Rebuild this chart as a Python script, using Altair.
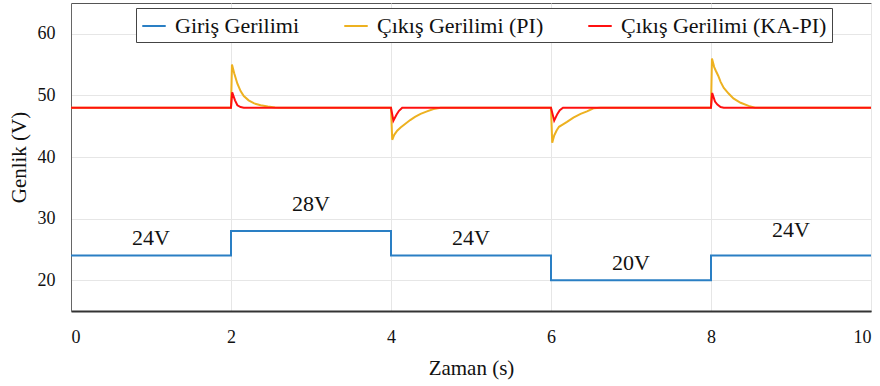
import altair as alt
import pandas as pd

# --- data ---
input_t = [0, 2, 2, 4, 4, 6, 6, 8, 8, 10]
input_v = [24, 24, 28, 28, 24, 24, 20, 20, 24, 24]

pi_t = [0, 2.0, 2.012, 2.04, 2.08, 2.12, 2.16, 2.22, 2.29, 2.37, 2.46, 2.55, 2.62,
        4.0, 4.015, 4.04, 4.08, 4.12, 4.18, 4.24, 4.30, 4.37, 4.45, 4.53, 4.62,
        6.0, 6.015, 6.04, 6.07, 6.10, 6.15, 6.20, 6.28, 6.37, 6.45, 6.53, 6.62,
        8.0, 8.012, 8.04, 8.06, 8.09, 8.12, 8.16, 8.22, 8.28, 8.37, 8.47, 8.55, 10]
pi_v = [48, 48, 55.0, 53.6, 51.9, 50.7, 49.9, 49.2, 48.7, 48.4, 48.2, 48.05, 48.0,
        48, 42.8, 43.6, 44.3, 44.8, 45.4, 46.0, 46.5, 47.0, 47.4, 47.8, 48.0,
        48, 42.3, 43.5, 44.3, 44.9, 45.3, 45.7, 46.4, 47.0, 47.4, 47.9, 48.0,
        48, 56.0, 54.6, 54.0, 53.2, 52.2, 51.2, 50.3, 49.5, 48.8, 48.3, 48.0, 48]

ka_t = [0, 2.0, 2.015, 2.05, 2.08, 2.12, 2.16,
        4.0, 4.03, 4.07, 4.10, 4.14,
        6.0, 6.04, 6.08, 6.11, 6.15,
        8.0, 8.015, 8.05, 8.08, 8.12, 8.16, 10]
ka_v = [48, 48, 50.5, 49.2, 48.4, 48.1, 48.0,
        48, 45.9, 46.9, 47.5, 48.0,
        48, 45.9, 47.0, 47.6, 48.0,
        48, 50.4, 49.0, 48.5, 48.1, 48.0, 48]

ann_text = ["24V", "28V", "24V", "20V", "24V"]
ann_x = [1, 3, 5, 7, 9]
ann_y = [26.8, 32.3, 26.8, 22.8, 28.2]

series_names = ["Giriş Gerilimi", "Çıkış Gerilimi (PI)", "Çıkış Gerilimi (KA-PI)"]
series_colors = ["#2a7fc4", "#EDB120", "#FF1010"]

rows = []
for name, ts, vs in [(series_names[0], input_t, input_v),
                     (series_names[1], pi_t, pi_v),
                     (series_names[2], ka_t, ka_v)]:
    for i, (t, v) in enumerate(zip(ts, vs)):
        rows.append({"t": t, "v": v, "s": name, "o": i})
df = pd.DataFrame(rows)
ann = pd.DataFrame({"t": ann_x, "v": ann_y, "txt": ann_text})

FONT = "Liberation Serif, Times New Roman, serif"

xsc = alt.Scale(domain=[0, 10], nice=False, zero=False)
ysc = alt.Scale(domain=[15, 65], nice=False, zero=False)

lines = alt.Chart(df).mark_line(strokeWidth=2, clip=True).encode(
    x=alt.X("t:Q", scale=xsc, title="Zaman (s)",
            axis=alt.Axis(values=[0, 2, 4, 6, 8, 10], format="d", grid=True, tickSize=0,
                          labelPadding=17, titlePadding=11,
                          domainColor="#333333", domainWidth=2)),
    y=alt.Y("v:Q", scale=ysc, title="Genlik (V)",
            axis=alt.Axis(values=[20, 30, 40, 50, 60], format="d", grid=True, tickSize=0,
                          labelPadding=16, titlePadding=8,
                          domainColor="#666666", domainWidth=1)),
    color=alt.Color("s:N",
                    scale=alt.Scale(domain=series_names, range=series_colors),
                    sort=series_names,
                    legend=alt.Legend(title=None, orient="none", legendX=65, legendY=5,
                                      direction="horizontal", symbolType="stroke",
                                      symbolSize=550, symbolStrokeWidth=2,
                                      labelFont=FONT, labelFontSize=22, labelColor="#111",
                                      labelLimit=400,
                                      columnPadding=40, padding=5,
                                      strokeColor="#444444", fillColor="white",
                                      labelOffset=8)),
    order="o:Q",
)

texts = alt.Chart(ann).mark_text(font=FONT, fontSize=22, color="#111").encode(
    x=alt.X("t:Q", scale=xsc),
    y=alt.Y("v:Q", scale=ysc),
    text="txt:N",
)

chart = alt.layer(lines, texts).properties(
    width=800, height=308,
    background="white",
    autosize=alt.AutoSizeParams(type="none"),
    padding={"left": 71, "top": 3, "right": 9, "bottom": 75},
).configure_view(
    stroke="#555555", strokeWidth=1
).configure_axis(
    labelFont=FONT, labelFontSize=18, labelColor="#111",
    titleFont=FONT, titleFontSize=21, titleFontWeight="normal", titleColor="#111",
    gridColor="#e6e6e6", gridWidth=1,
).configure_legend(
    labelFont=FONT
).configure_text(
    font=FONT
)

chart.save("out.html", embed_options={"renderer": "svg", "actions": False})
